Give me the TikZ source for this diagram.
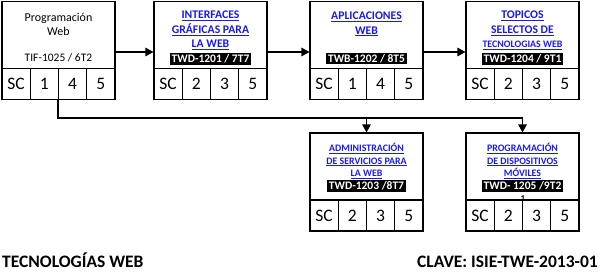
\documentclass[tikz,border=0pt]{standalone}
\usepackage{fontspec}
\setmainfont{Carlito}
\usetikzlibrary{arrows.meta,positioning}
\definecolor{azul}{RGB}{25,25,235}

\tikzset{
  caja/.style={draw, line width=1.1pt, minimum width=113pt, minimum height=67pt, inner sep=0pt},
  celda/.style={draw, line width=1.1pt, minimum width=28.25pt, minimum height=31pt, inner sep=0pt,
    font=\fontsize{17.5}{17.5}\selectfont},
  titulo/.style={text=azul, align=center, inner sep=0pt, font=\fontsize{11.7}{14.5}\selectfont\bfseries},
  subtitulo/.style={text=azul, align=center, inner sep=0pt, font=\fontsize{9.9}{12.5}\selectfont\bfseries},
  clave/.style={fill=black, text=white, inner sep=1.6pt, font=\fontsize{11.5}{13}\selectfont\bfseries},
  pie/.style={inner sep=0pt, font=\fontsize{17.5}{17.5}\selectfont\bfseries},
  flecha/.style={-{Triangle[length=8pt,width=8.5pt]}, line width=1.2pt},
}
\newcommand{\ligado}[1]{\underline{#1}}

\begin{document}
\begin{tikzpicture}[x=1pt, y=-1pt]
      \useasboundingbox (0,0) rectangle (600,275);
      % Course boxes with their bottom row of cells
      \foreach \n/\x/\y/\a/\b/\c in {prog/2/1.5/1/4/5, inter/154/1.5/2/3/5, apli/310/1.5/1/4/5,
          topi/466/1.5/2/3/5, admin/310/133/2/3/5, movil/466/133/2/3/5} {
        \node[caja] (\n) at (\x+56.5, \y+33.5) {};
        \foreach \t [count=\i from 0] in {SC,\a,\b,\c}
          \node[celda] (\n-\i) at (\x+14.125+28.25*\i, \y+82.5) {\t};
      }
      % Texts of the boxes
      \node[align=center, font=\fontsize{12}{14}\selectfont] (prog-t) at (58.5,24) {Programación\\Web};
      \node[font=\fontsize{11.5}{13}\selectfont] (prog-k) at (58.5,58) {TIF-1025 / 6T2};
      \node[titulo] (inter-t) at (210.5,30.5) {\ligado{INTERFACES}\\\ligado{GRÁFICAS PARA}\\\ligado{LA WEB}};
      \node[clave] (inter-k) at (210.5,59) {TWD-1201 / 7T7};
      \node[titulo] (apli-t) at (366.5,24) {\ligado{APLICACIONES}\\\ligado{WEB}};
      \node[clave] (apli-k) at (366.5,58.5) {TWB-1202 / 8T5};
      \node[titulo] (topi-t) at (522.5,30.5) {\ligado{TOPICOS}\\\ligado{SELECTOS DE}\\
        {\fontsize{9.9}{12}\selectfont\ligado{TECNOLOGIAS WEB}}};
      \node[clave] (topi-k) at (522.5,59) {TWD-1204 / 9T1};
      \node[subtitulo] (admin-t) at (366.5,161) {\ligado{ADMINISTRACIÓN}\\\ligado{DE SERVICIOS PARA}\\\ligado{LA WEB}};
      \node[clave] (admin-k) at (366.5,186) {TWD-1203 /8T7};
      \node[subtitulo] (movil-t) at (522.5,161) {\ligado{PROGRAMACIÓN}\\\ligado{DE DISPOSITIVOS}\\\ligado{MÓVILES}};
      \node[clave] (movil-k) at (522.5,186) {TWD- 1205 /9T2};
      \node[inner sep=0pt, font=\fontsize{9}{9}\selectfont\bfseries] (movil-uno) at (523,199) {1};
      % Arrows between the boxes
      \draw[flecha] ([yshift=-17pt]prog.east) -- ([yshift=-17pt]inter.west);
      \draw[flecha] ([yshift=-17pt]inter.east) -- ([yshift=-17pt]apli.west);
      \draw[flecha] ([yshift=-17pt]apli.east) -- ([yshift=-17pt]topi.west);
      \draw[line width=1.2pt] (prog-2.south west) -- ++(0,18) coordinate (codo) -- (codo -| movil.north);
      \draw[flecha] (codo -| admin.north) -- (admin.north);
      \draw[flecha] (codo -| movil.north) -- (movil.north);
      % Footer
      \node[pie, anchor=base west] (nombre) at (2,268) {TECNOLOGÍAS WEB};
      \node[pie, anchor=base east] (clave) at (598,268) {CLAVE: ISIE-TWE-2013-01};
    \end{tikzpicture}
\end{document}
